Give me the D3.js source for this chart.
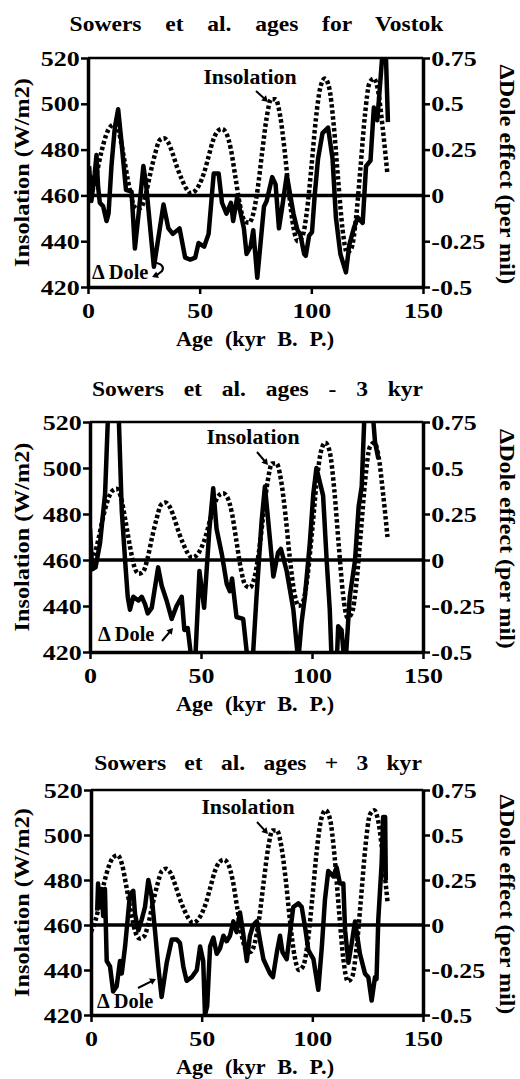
<!DOCTYPE html>
<html>
<head>
<meta charset="utf-8">
<script src="https://cdn.jsdelivr.net/npm/d3@7"></script>
<style>
  body { margin: 0; background: #fff; }
  text { font-family: "Liberation Serif", "Times New Roman", serif; font-weight: bold; fill: #000; }
</style>
</head>
<body>
<svg id="chart" width="520" height="1079"></svg>
<script>
// ---- données ----
// insolation (W/m2), la même courbe dans les trois panneaux
const insolationAge = [0,2,4,6,8,10,12,14,16,18,20,22,24,26,28,30,32,34,36,38,40,42,44,46,48,50,52,54,56,58,60,62,64,66,68,70,72,74,76,78,80,82,84,86,88,90,92,94,96,98,100,102,104,106,108,110,112,114,116,118,120,122,124,126,128,130,132,134];
const insolationWm2 = [457,462,470,479,486,490,491,487,477,466,457,454,455,461,470,478,484,485,483,478,472,467,463,461,462,465,470,477,484,488,489,487,480,468,456,449,448,452,463,479,494,502,502,495,480,461,446,440,442,453,472,493,507,511,507,491,467,445,435,437,450,472,495,509,511,505,489,470];

// Delta Dole (per mil) : [age kyr, valeur]
const doleSowers = [[0.5,0.16],[1.5,-0.03],[3,0.12],[3.8,0.22],[4.5,0.05],[5.3,-0.04],[6.8,-0.06],[8.3,-0.14],[9.2,-0.1],[10.5,0.16],[12,0.37],[13.5,0.47],[15,0.29],[17,0.03],[19.5,0.02],[21,-0.29],[23,-0.06],[24.8,0.16],[26,0.06],[29.5,-0.39],[33.8,-0.05],[36,-0.18],[38,-0.21],[41,-0.18],[43.5,-0.34],[45.8,-0.35],[48,-0.34],[49.5,-0.26],[52,-0.28],[54,-0.21],[56.3,0.12],[58.5,0.12],[60,-0.04],[62,-0.1],[64,-0.04],[65,-0.14],[66.8,-0.01],[69.8,-0.18],[71,-0.32],[72.8,-0.28],[74,-0.19],[75.8,-0.45],[78.8,-0.06],[80,-0.03],[82.5,0.1],[84,0.06],[85.5,-0.18],[87,-0.06],[89,0.11],[92,-0.1],[93.8,-0.19],[95,-0.21],[96.8,-0.32],[97.5,-0.33],[99,-0.22],[100.3,-0.2],[101.5,0.0],[103,0.2],[105,0.34],[107.5,0.37],[109.5,0.2],[111,-0.12],[113,-0.32],[115.5,-0.42],[117,-0.27],[119,-0.18],[120.8,-0.12],[123,-0.15],[124.5,0.16],[126.5,0.19],[128,0.48],[129.5,0.41],[130.5,0.56],[132,0.8],[133.3,0.8],[134.3,0.4]];
const doleMinus3 = [[0,0.17],[1,-0.05],[2.5,-0.04],[4.5,0.09],[6.8,0.36],[8,0.75],[9.5,0.95],[12.5,0.95],[14.3,0.27],[15.8,0.0],[17,-0.2],[18,-0.27],[19.5,-0.2],[21.8,-0.22],[23.3,-0.2],[24.8,-0.24],[26,-0.29],[27.8,-0.26],[30.7,-0.04],[32.3,-0.14],[34.5,-0.22],[36.8,-0.32],[39,-0.25],[41.3,-0.2],[42.5,-0.38],[44,-0.37],[45.5,-0.52],[47.5,-0.52],[49.3,-0.06],[51.4,-0.26],[53.8,0.17],[55.5,0.39],[57,0.17],[59.4,0.03],[61.6,-0.13],[63,-0.17],[64,-0.1],[66,-0.31],[69,-0.32],[70.6,-0.5],[72,-0.6],[73.5,-0.5],[75,-0.2],[77.3,0.21],[78.8,0.4],[81,0.12],[82.6,-0.09],[84.7,0.04],[86,0.06],[88.6,-0.06],[91.6,-0.27],[93,-0.45],[93.8,-0.55],[95.3,-0.34],[96.8,-0.2],[99,0.09],[100.6,0.36],[102,0.5],[103.6,0.42],[105,0.35],[106.6,0.0],[108,-0.27],[109,-0.6],[111,-0.6],[111.8,-0.36],[113.3,-0.38],[114.9,-0.6],[117,-0.2],[119.4,0.0],[121,0.29],[122.4,0.4],[123.5,0.75],[125,0.9],[127,0.85],[128.4,0.64],[129.9,0.55]];
const dolePlus3 = [[2.8,0.08],[3.2,0.23],[4,0.1],[4.8,0.2],[5.5,0.05],[6.3,0.2],[7.1,-0.2],[8.6,-0.23],[10,-0.37],[11.6,-0.34],[13.1,-0.2],[13.9,-0.27],[15.4,-0.12],[17.6,0.17],[19.1,0.19],[19.9,0.06],[21.4,-0.03],[22.9,0.03],[24.4,0.1],[25.9,0.25],[27.4,0.16],[28.9,-0.03],[30.4,-0.23],[31.9,-0.4],[34.2,-0.21],[36.5,-0.08],[38.7,-0.08],[40.2,-0.1],[41.7,-0.23],[43.2,-0.31],[45.5,-0.29],[47.8,-0.25],[49.3,-0.12],[50.7,-0.2],[51.5,-0.5],[52.5,-0.45],[53.8,-0.12],[55.3,-0.07],[56.8,-0.16],[58.3,-0.13],[59.8,-0.06],[61.3,-0.09],[62.8,-0.06],[64.3,0.02],[65.8,-0.04],[67.3,0.07],[68.8,-0.05],[70.4,-0.2],[71.8,-0.06],[73.3,0.0],[74.9,0.02],[76.4,-0.09],[77.9,-0.19],[80.9,-0.27],[82.2,-0.29],[84,-0.15],[85.4,-0.06],[86.5,-0.15],[88.4,-0.19],[91.4,0.1],[93.7,0.12],[95.2,0.1],[96.7,-0.01],[98.2,-0.14],[100.5,-0.19],[102.7,-0.36],[104.3,-0.12],[105.7,0.14],[107.2,0.3],[109.5,0.27],[111,0.32],[112.5,0.23],[114,0.23],[114.8,-0.03],[116.3,-0.21],[117.8,-0.1],[119.3,0.02],[121.5,-0.16],[123.8,-0.27],[125.3,-0.29],[126.8,-0.42],[128.3,-0.29],[129,-0.3],[129.8,0.03],[131.3,0.34],[132,0.6],[132.9,0.6],[133.2,0.25]];

const panelTitles = ["Sowers et al. ages for Vostok", "Sowers et al. ages - 3 kyr", "Sowers et al. ages + 3 kyr"];
const ageTicks = [0, 50, 100, 150];
const insTicks = [420, 440, 460, 480, 500, 520];
const doleTicks = [-0.5, -0.25, 0, 0.25, 0.5, 0.75];

// ---- mise en page ----
const panels = [
  { title: panelTitles[0], dole: doleSowers, left: 88, right: 423, top: 58, bottom: 287,
    titleY: 31, wordSpacing: 16.7, insLabel: [250, 84], insArrow: [256, 91, 268, 102],
    doleLabel: [92, 279], hook: true },
  { title: panelTitles[1], dole: doleMinus3, left: 90, right: 423, top: 422, bottom: 652,
    titleY: 396, wordSpacing: 13, insLabel: [253, 444], insArrow: [257, 452, 268, 465],
    doleLabel: [98, 641], doleArrow: [162, 641, 173, 628] },
  { title: panelTitles[2], dole: dolePlus3, left: 91, right: 423, top: 790, bottom: 1015,
    titleY: 770, wordSpacing: 11.6, insLabel: [248, 814], insArrow: [257, 822, 268, 834],
    doleLabel: [97, 1008], doleArrow: [138, 988, 156, 979] }
];

const svg = d3.select("#chart");
const defs = svg.append("defs");

/**
 * Texte gras, étiré horizontalement comme dans la figure
 */
function stretchText(g, x, y, str, size, sx, opts = {}) {
  const t = g.append("text")
    .attr("transform", `translate(${x},${y}) rotate(${opts.rotate || 0}) scale(${sx},1)`)
    .attr("text-anchor", opts.anchor || "middle")
    .style("font-size", size + "px")
    .text(str);
  if (opts.wordSpacing) t.style("word-spacing", opts.wordSpacing + "px");
  return t;
}

function drawArrow(g, x1, y1, x2, y2) {
  const a = Math.atan2(y2 - y1, x2 - x1), h = 6, w = 3.5;
  g.append("line")
    .attr("x1", x1).attr("y1", y1)
    .attr("x2", x2 - h * 0.6 * Math.cos(a)).attr("y2", y2 - h * 0.6 * Math.sin(a))
    .attr("stroke", "#000").attr("stroke-width", 2);
  const bx = x2 - h * Math.cos(a), by = y2 - h * Math.sin(a);
  g.append("path")
    .attr("d", `M${x2},${y2}L${bx + w * Math.sin(a)},${by - w * Math.cos(a)}L${bx - w * Math.sin(a)},${by + w * Math.cos(a)}Z`)
    .attr("fill", "#000");
}

panels.forEach((p, i) => {
  const g = svg.append("g");

  const x = d3.scaleLinear().domain([0, 150]).range([p.left, p.right]);
  const yIns = d3.scaleLinear().domain([420, 520]).range([p.bottom, p.top]);
  const yDole = d3.scaleLinear().domain([-0.5, 0.75]).range([p.bottom, p.top]);

  defs.append("clipPath").attr("id", "clip" + i)
    .append("rect")
    .attr("x", p.left).attr("y", p.top)
    .attr("width", p.right - p.left).attr("height", p.bottom - p.top);

  // titre
  stretchText(g, (p.left + p.right) / 2 + 1, p.titleY, p.title, 22, 1.07, { wordSpacing: p.wordSpacing });

  // courbes
  const plot = g.append("g").attr("clip-path", `url(#clip${i})`);

  const insLine = d3.line()
    .x((d, k) => x(insolationAge[k]))
    .y(d => yIns(d))
    .curve(d3.curveMonotoneX);
  plot.append("path")
    .attr("d", insLine(insolationWm2))
    .attr("fill", "none")
    .attr("stroke", "#000")
    .attr("stroke-width", 4.5)
    .attr("stroke-dasharray", "3.5,2.5");

  const doleLine = d3.line()
    .x(d => x(d[0]))
    .y(d => yDole(d[1]));
  plot.append("path")
    .attr("d", doleLine(p.dole))
    .attr("fill", "none")
    .attr("stroke", "#000")
    .attr("stroke-width", 4.5)
    .attr("stroke-linejoin", "round");

  // ligne zéro
  g.append("line")
    .attr("x1", p.left).attr("x2", p.right)
    .attr("y1", yDole(0)).attr("y2", yDole(0))
    .attr("stroke", "#000").attr("stroke-width", 3.5);

  // cadre haut
  g.append("line")
    .attr("x1", p.left).attr("x2", p.right)
    .attr("y1", p.top).attr("y2", p.top)
    .attr("stroke", "#000").attr("stroke-width", 2.5);

  // axes
  const axL = g.append("g").attr("transform", `translate(${p.left},0)`)
    .call(d3.axisLeft(yIns).tickValues(insTicks).tickSize(7).tickSizeOuter(0).tickPadding(0));
  const axR = g.append("g").attr("transform", `translate(${p.right},0)`)
    .call(d3.axisRight(yDole).tickValues(doleTicks).tickSize(7).tickSizeOuter(0).tickPadding(0)
      .tickFormat(d => String(d)));
  const axB = g.append("g").attr("transform", `translate(0,${p.bottom})`)
    .call(d3.axisBottom(x).tickValues(ageTicks).tickSize(7).tickSizeOuter(0).tickPadding(8));

  [axL, axR, axB].forEach(ax => {
    ax.attr("font-family", null).attr("font-size", null);
    ax.select(".domain").attr("stroke", "#000").attr("stroke-width", 3.5);
    ax.selectAll(".tick line").attr("stroke", "#000").attr("stroke-width", 2.5);
    ax.selectAll(".tick text")
      .attr("fill", "#000")
      .style("font-size", "22px")
      .attr("transform", "scale(1.18,1)");
  });

  // titres des axes
  const cy = (p.top + p.bottom) / 2;
  stretchText(g, 29, cy, "Insolation (W/m2)", 22, 1.1, { rotate: -90 });
  stretchText(g, 500, cy + 2, "\u0394Dole effect (per mil)", 21.5, 1.12, { rotate: 90 });
  stretchText(g, 255, p.bottom + 59, "Age (kyr B. P.)", 21, 1.06, { wordSpacing: 6 });

  // annotations
  stretchText(g, p.insLabel[0], p.insLabel[1], "Insolation", 20, 1.09);
  drawArrow(g, ...p.insArrow);
  stretchText(g, p.doleLabel[0], p.doleLabel[1], "\u0394 Dole", 20, 1.02, { anchor: "start" });
  if (p.doleArrow) drawArrow(g, ...p.doleArrow);
  if (p.hook) {
    g.append("path")
      .attr("d", "M152,262 Q166,264 162,271 L157,275")
      .attr("fill", "none").attr("stroke", "#000").attr("stroke-width", 2.2);
    drawArrow(g, 158, 274.5, 152, 277);
  }
});
</script>
</body>
</html>
